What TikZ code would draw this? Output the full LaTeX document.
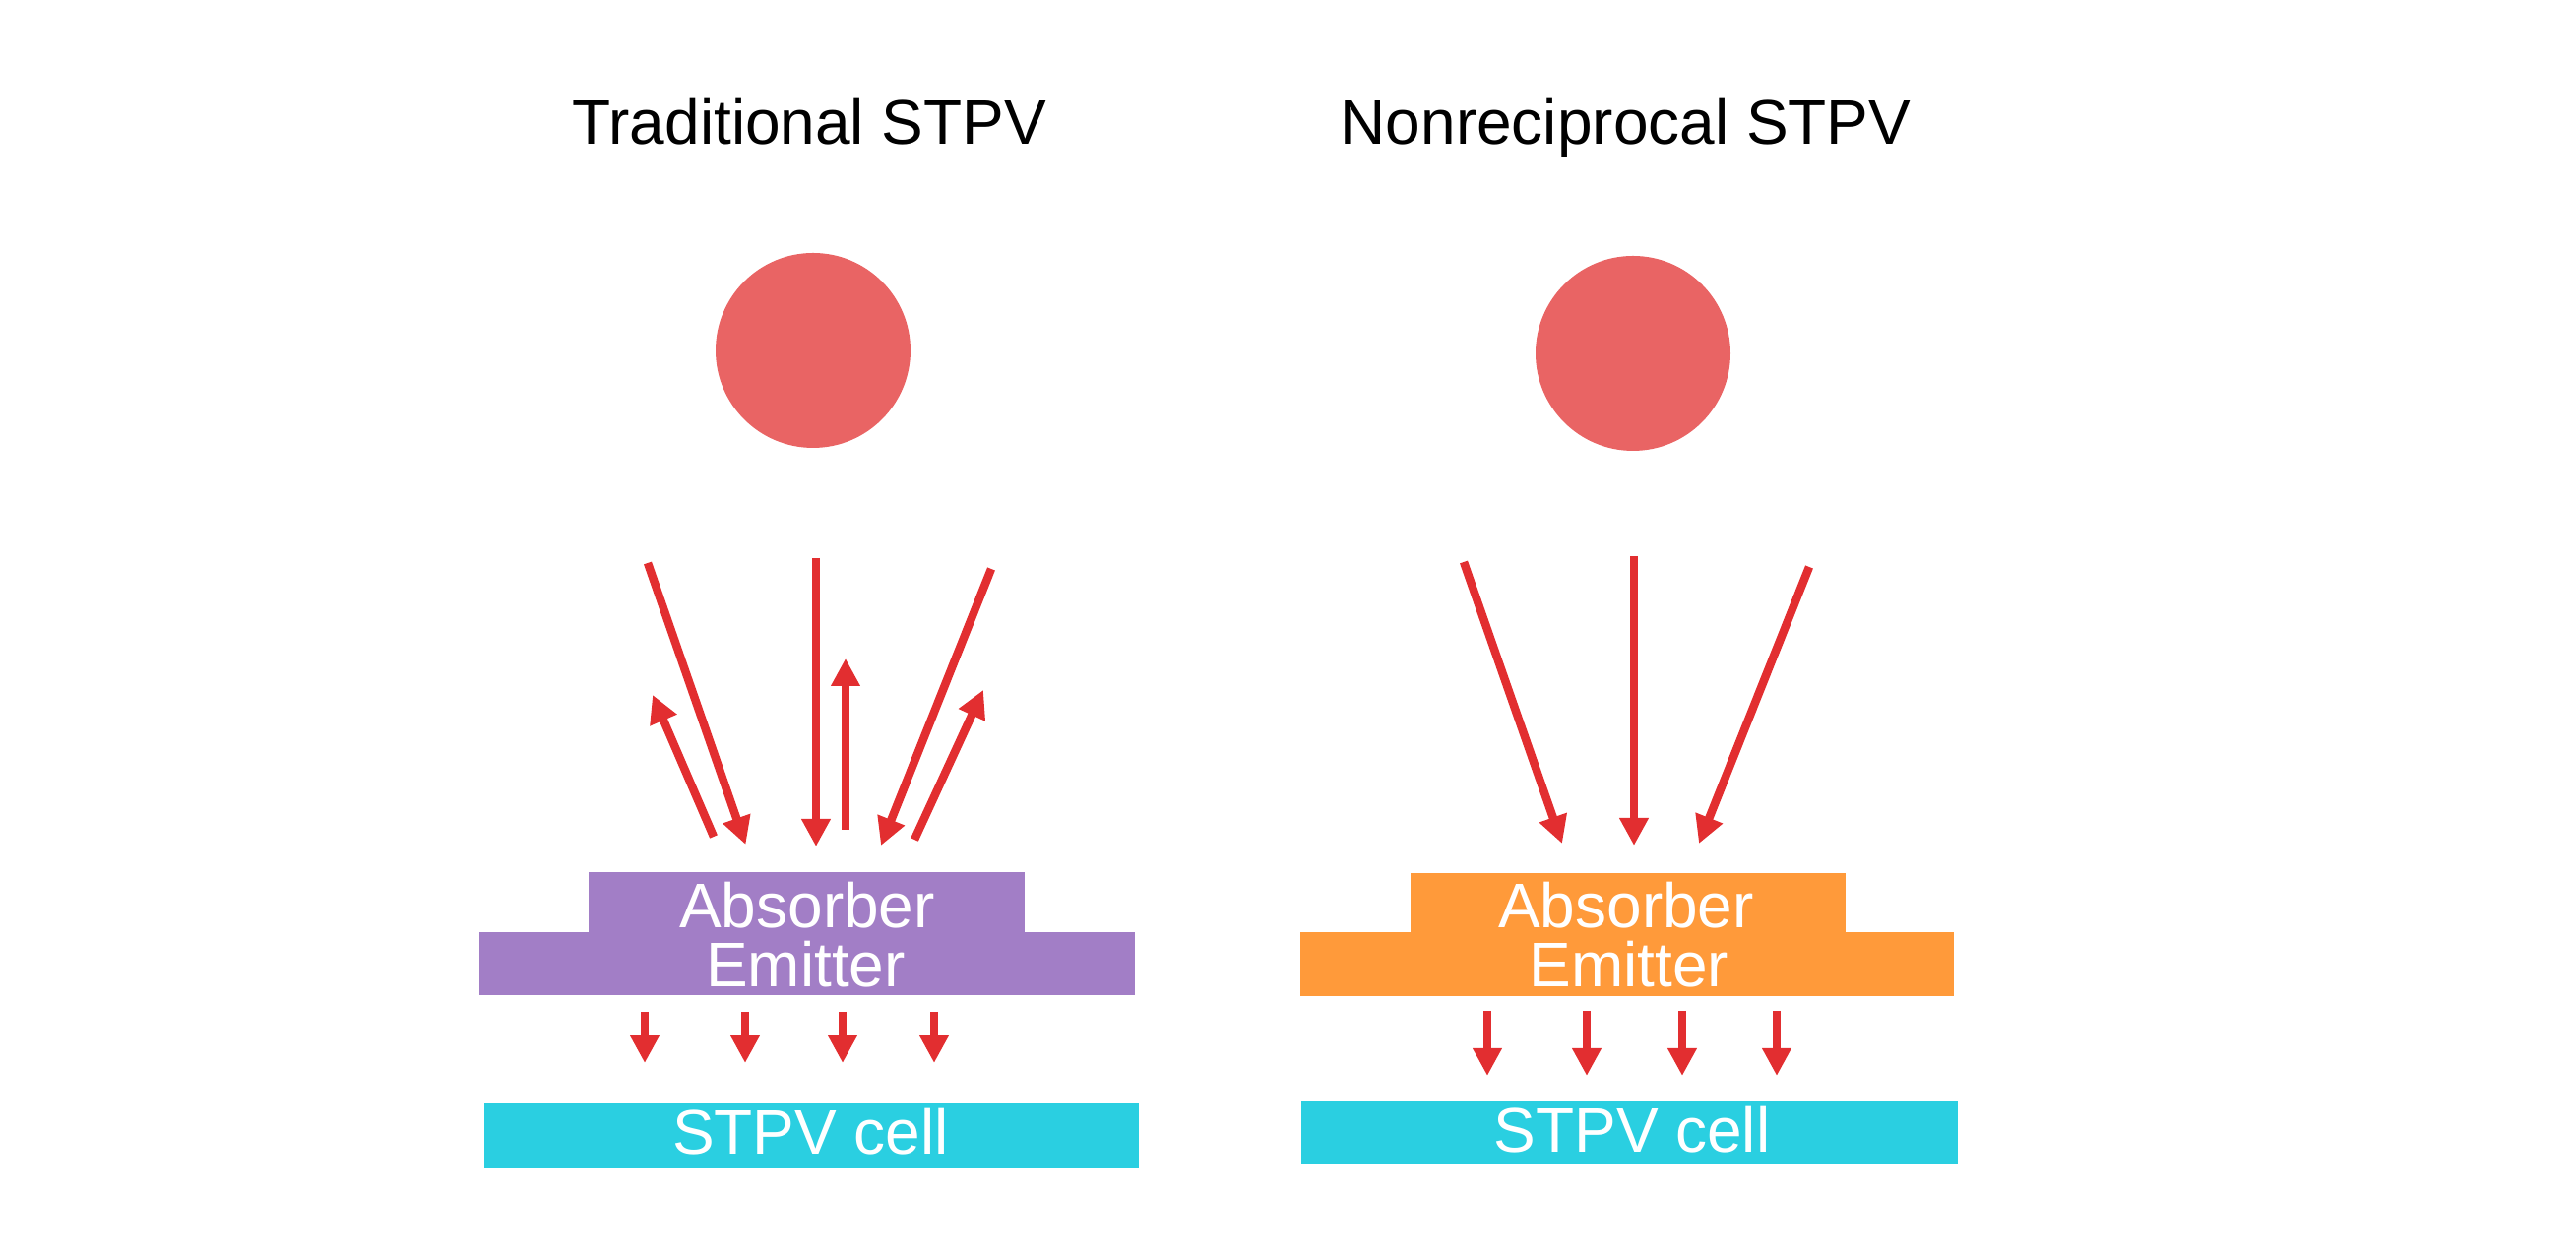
\documentclass[tikz,border=0pt]{standalone}
\usepackage{fontspec}
\setmainfont{Liberation Sans}
\usetikzlibrary{positioning,arrows.meta}

\definecolor{sunred}{RGB}{233,100,100}
\definecolor{rayred}{RGB}{226,46,48}
\definecolor{violetlayer}{RGB}{162,126,198}
\definecolor{orangelayer}{RGB}{255,154,58}
\definecolor{cellcyan}{RGB}{42,207,225}

\begin{document}
\begin{tikzpicture}[
		sun/.style={circle, fill=sunred, minimum size=1.98cm, inner sep=0pt},
		layer/.style={rectangle, inner sep=0pt, anchor=south west},
		lbl/.style={text=white, font=\fontsize{18.2}{22}\selectfont, anchor=base, inner sep=0pt},
		heading/.style={font=\fontsize{18.2}{22}\selectfont, anchor=base, inner sep=0pt},
		ray/.style={draw=rayred, line width=2.4pt, -{Triangle[length=0.28cm,width=0.28cm]}}
	]
		\useasboundingbox (0,0) rectangle (26.17,12.74);

		% traditional
		\node[heading] (titleL) at (8.225,11.27) {Traditional STPV};
		\node[sun] (sunL) at (8.26,9.18) {};
		\node[layer, fill=violetlayer, minimum width=4.43cm, minimum height=0.62cm] (absL) at (5.97,3.25) {};
		\node[layer, fill=violetlayer, minimum width=6.66cm, minimum height=0.64cm] (emiL) at (4.86,2.62) {};
		\node[layer, fill=cellcyan, minimum width=6.65cm, minimum height=0.66cm] (cellL) at (4.91,0.86) {};
		\node[lbl] (absLtxt) at (8.20,3.31) {Absorber};
		\node[lbl] (emiLtxt) at (8.185,2.71) {Emitter};
		\node[lbl] (cellLtxt) at (8.235,1.01) {STPV cell};

		\coordinate (a1s) at (6.58,7.02);  \coordinate (a1e) at (7.575,4.16);
		\coordinate (a2s) at (8.29,7.07);  \coordinate (a2e) at (8.29,4.14);
		\coordinate (a3s) at (10.07,6.96); \coordinate (a3e) at (8.95,4.15);
		\coordinate (r1s) at (7.25,4.24);  \coordinate (r1e) at (6.63,5.68);
		\coordinate (r2s) at (8.59,4.31);  \coordinate (r2e) at (8.59,6.05);
		\coordinate (r3s) at (9.29,4.21);  \coordinate (r3e) at (9.99,5.73);
		\draw[ray] (a1s) -- (a1e);
		\draw[ray] (a2s) -- (a2e);
		\draw[ray] (a3s) -- (a3e);
		\draw[ray] (r1s) -- (r1e);
		\draw[ray] (r2s) -- (r2e);
		\draw[ray] (r3s) -- (r3e);

		\foreach \x [count=\i] in {6.55,7.57,8.56,9.49} {
			\coordinate (dLs\i) at (\x,2.46);
			\coordinate (dLe\i) at (\x,1.94);
			\draw[ray] (dLs\i) -- (dLe\i);
		}

		% nonreciprocal
		\node[heading] (titleR) at (16.515,11.27) {Nonreciprocal STPV};
		\node[sun] (sunR) at (16.59,9.15) {};
		\node[layer, fill=orangelayer, minimum width=4.42cm, minimum height=0.61cm] (absR) at (14.32,3.25) {};
		\node[layer, fill=orangelayer, minimum width=6.64cm, minimum height=0.65cm] (emiR) at (13.20,2.61) {};
		\node[layer, fill=cellcyan, minimum width=6.67cm, minimum height=0.64cm] (cellR) at (13.21,0.90) {};
		\node[lbl] (absRtxt) at (16.52,3.31) {Absorber};
		\node[lbl] (emiRtxt) at (16.55,2.71) {Emitter};
		\node[lbl] (cellRtxt) at (16.58,1.03) {STPV cell};

		\coordinate (b1s) at (14.87,7.03); \coordinate (b1e) at (15.87,4.17);
		\coordinate (b2s) at (16.60,7.09); \coordinate (b2e) at (16.60,4.15);
		\coordinate (b3s) at (18.38,6.98); \coordinate (b3e) at (17.26,4.17);
		\draw[ray] (b1s) -- (b1e);
		\draw[ray] (b2s) -- (b2e);
		\draw[ray] (b3s) -- (b3e);

		\foreach \x [count=\i] in {15.11,16.12,17.09,18.05} {
			\coordinate (dRs\i) at (\x,2.47);
			\coordinate (dRe\i) at (\x,1.81);
			\draw[ray] (dRs\i) -- (dRe\i);
		}
	\end{tikzpicture}
\end{document}
